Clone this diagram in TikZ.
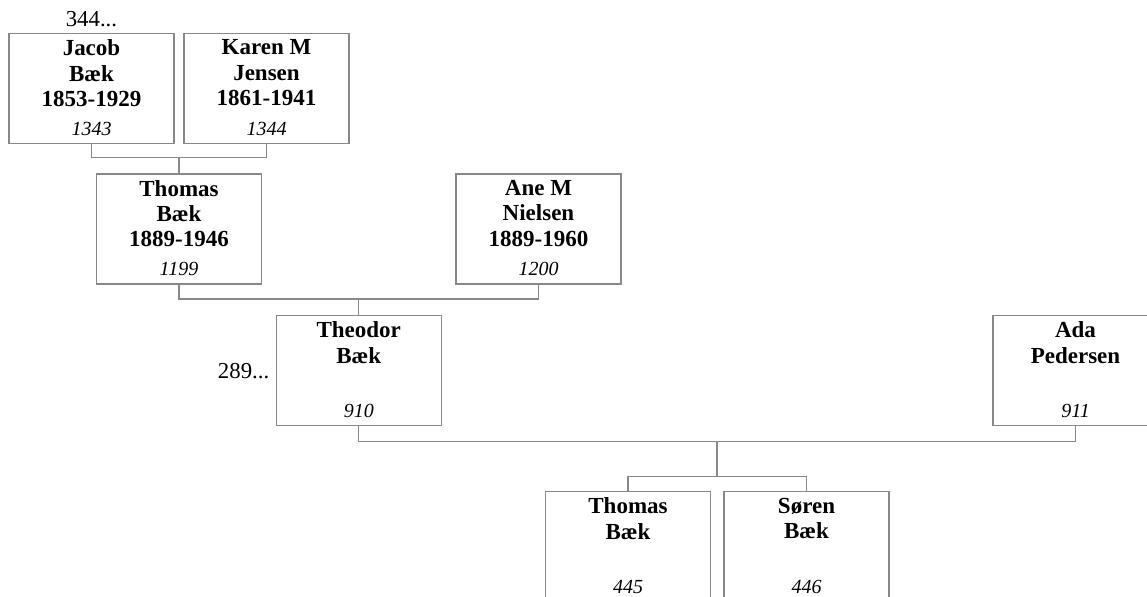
\documentclass[tikz,border=0pt]{standalone}
\usepackage{fontspec}
\setmainfont{Liberation Serif}
\usetikzlibrary{positioning}
\definecolor{linegray}{RGB}{136,136,136}
\tikzset{
  person/.style={draw=linegray,line width=.6pt,minimum width=82.5pt,minimum height=55pt,inner sep=0pt},
  pname/.style={inner sep=0pt,align=center,font=\fontsize{11.5pt}{12.7pt}\selectfont\bfseries},
  pnum/.style={inner sep=0pt,font=\fontsize{10pt}{12pt}\selectfont\itshape},
  more/.style={inner sep=0pt,font=\fontsize{11.4pt}{13pt}\selectfont},
  link/.style={draw=linegray,line width=.6pt}
}
\begin{document}
\begin{tikzpicture}[x=.5pt,y=-.5pt]
\fill[white] (0,0) rectangle (1147,596);
\useasboundingbox (0,0) rectangle (1147,596);
\clip (0,0) rectangle (1147,596);
% persons: name / centre / text / number
\foreach \p/\x/\y/\t/\k in {jacob/91.5/88.5/{Jacob\\Bæk\\1853-1929}/1343,
  karen/266.5/88.5/{Karen M\\Jensen\\1861-1941}/1344,
  thomas/179/229/{Thomas\\Bæk\\1889-1946}/1199,
  ane/538.5/229/{Ane M\\Nielsen\\1889-1960}/1200,
  theodor/358.75/370.75/{Theodor\\Bæk}/910,
  ada/1075.5/370.75/{Ada\\Pedersen}/911,
  thomasb/628/546.7/{Thomas\\Bæk}/445,
  soren/806.5/546.7/{Søren\\Bæk}/446}{
\node[person] (\p) at (\x,\y) {};
\node[pname,below=3.2pt of \p.north] (\p-name) {\t};
\node[pnum,above=4.2pt of \p.south] (\p-nr) {\k};}
\node[more,above=3pt of jacob.north] (jacob-more) {344...};
\node[more,left=3pt of theodor.west] (theodor-more) {289...};
% family lines
\coordinate (jk) at (179,157.5);
\coordinate (ta) at (358.75,299);
\coordinate (td) at (717,441.5);
\coordinate (kids) at (717,476.7);
\draw[link] (jacob.south) |- (jk) -| (karen.south);
\draw[link] (jk) -- (thomas.north);
\draw[link] (thomas.south) |- (ta) -| (ane.south);
\draw[link] (ta) -- (theodor.north);
\draw[link] (theodor.south) |- (td) -| (ada.south);
\draw[link] (td) -- (kids);
\draw[link] (thomasb.north) |- (kids) -| (soren.north);
\end{tikzpicture}
\end{document}
